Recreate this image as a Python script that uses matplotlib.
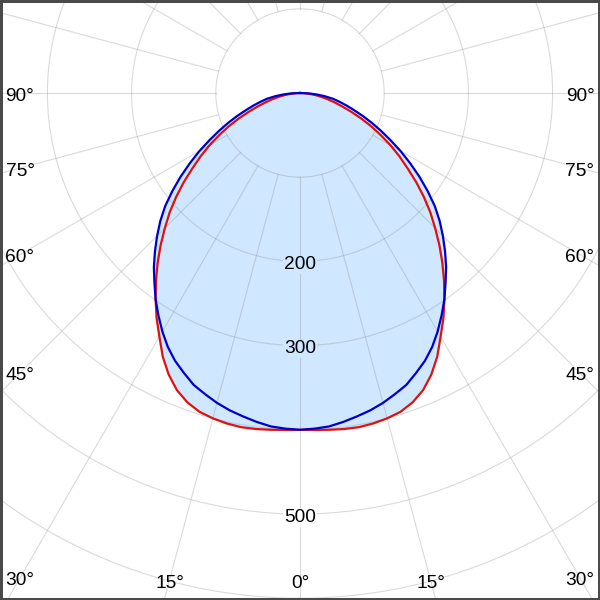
import numpy as np
import matplotlib
matplotlib.use("Agg")
import matplotlib.pyplot as plt
from matplotlib.patches import Rectangle

plt.rcParams['font.family'] = ['Liberation Sans', 'DejaVu Sans']

# ---- data (cd vs angle from nadir, symmetric curves) ----
angles_deg = [0, 2.5, 5, 7.5, 10, 12.5, 15, 17.5, 20, 22.5, 25, 27.5, 30, 32.5, 35, 37.5,
              40, 42.5, 45, 47.5, 50, 52.5, 55, 57.5, 60, 62.5, 65, 67.5, 70, 72.5, 75,
              77.5, 80, 82.5, 85, 87.5, 90]
red_cd = [400, 400.5, 401.5, 402.5, 403, 402, 400, 397, 391, 382, 369, 353, 334, 317, 299, 281,
          263, 245, 227, 210, 192, 174, 156, 140, 124, 108, 93, 78, 64, 52, 42,
          33, 25, 18, 11, 5, 0]
blue_cd = [400, 399, 397.5, 394, 390, 386, 381, 375, 369, 360, 351, 340, 327, 313, 299, 284,
           270, 255, 240, 225, 209, 191, 173, 155, 138, 121, 106, 92, 79, 67, 57,
           48, 40, 30, 20, 10, 0]
r_grid = [100, 200, 300, 400, 500, 600, 700]
r_labels = [200, 300, 500]
angle_labels = [-90, -75, -60, -45, -30, -15, 0, 15, 30, 45, 60, 75, 90]

# ---- layout ----
W = H = 600
S = 0.842          # px per cd
RMAX = 720
R = RMAX * S
cx, cy = 300, 93   # centre in px (from top-left)

fig = plt.figure(figsize=(6, 6), dpi=100)
ax = fig.add_axes([(cx - R) / W, (H - cy - R) / H, 2 * R / W, 2 * R / H], projection='polar')
ax.set_theta_zero_location('S')
ax.set_ylim(0, RMAX)
ax.set_xticks([])
ax.set_yticks([])
ax.grid(False)
ax.spines['polar'].set_visible(False)
ax.set_facecolor('white')

fill_c = (207 / 255, 231 / 255, 1.0)
grid_c = (0.55, 0.55, 0.55)

a = np.asarray(angles_deg, float)
th = np.deg2rad(np.concatenate([-a[::-1], a[1:]]))
def mirror(v):
    v = np.asarray(v, float)
    return np.concatenate([v[::-1], v[1:]])
r_red = mirror(red_cd)
r_blue = mirror(blue_cd)

ax.fill(th, r_red, color=fill_c, lw=0, zorder=1)
ax.fill(th, r_blue, color=fill_c, lw=0, zorder=1)

# grid
tt = np.linspace(0, 2 * np.pi, 1441)
for rg in r_grid:
    ax.plot(tt, np.full_like(tt, rg), color=grid_c, alpha=0.32, lw=0.8, zorder=2)
for ang in range(0, 360, 15):
    t = np.deg2rad(ang)
    ax.plot([t, t], [r_grid[0], RMAX], color=grid_c, alpha=0.32, lw=0.8, zorder=2)

# curves
ax.plot(th, r_red, color='#e01010', lw=1.6, zorder=3, solid_joinstyle='round')
ax.plot(th, r_blue, color='#0000cc', lw=1.6, zorder=3, solid_joinstyle='round')

# radial value labels
for rv in r_labels:
    bg = fill_c if rv <= 400 else 'white'
    ax.text(0, rv + 4, str(rv), ha='center', va='center', fontsize=13.8, color='black',
            zorder=4, bbox=dict(facecolor=bg, edgecolor='none', pad=0.5))

# angle labels along an inset rectangle
for ang in angle_labels:
    t = np.deg2rad(ang)
    sx = abs(np.sin(t))
    cc = np.cos(t)
    cands = []
    if sx > 1e-9:
        cands.append(280 / sx)
    if cc > 1e-9:
        cands.append(487 / cc)
    rpx = min(cands)
    dx = rpx * np.sin(t)
    dy = rpx * cc + 3
    t2 = np.arctan2(dx, dy)
    r2 = np.hypot(dx, dy) / S
    ax.text(t2, r2, f"{abs(ang)}\u00b0", ha='center', va='center', fontsize=13.8,
            color='black', zorder=4, clip_on=False)

fig.patches.append(Rectangle((0, 0), 1, 1, transform=fig.transFigure, fill=False,
                             edgecolor='#4a4a4a', lw=3.6, zorder=10))

fig.savefig('out.png', dpi=100, facecolor='white')
